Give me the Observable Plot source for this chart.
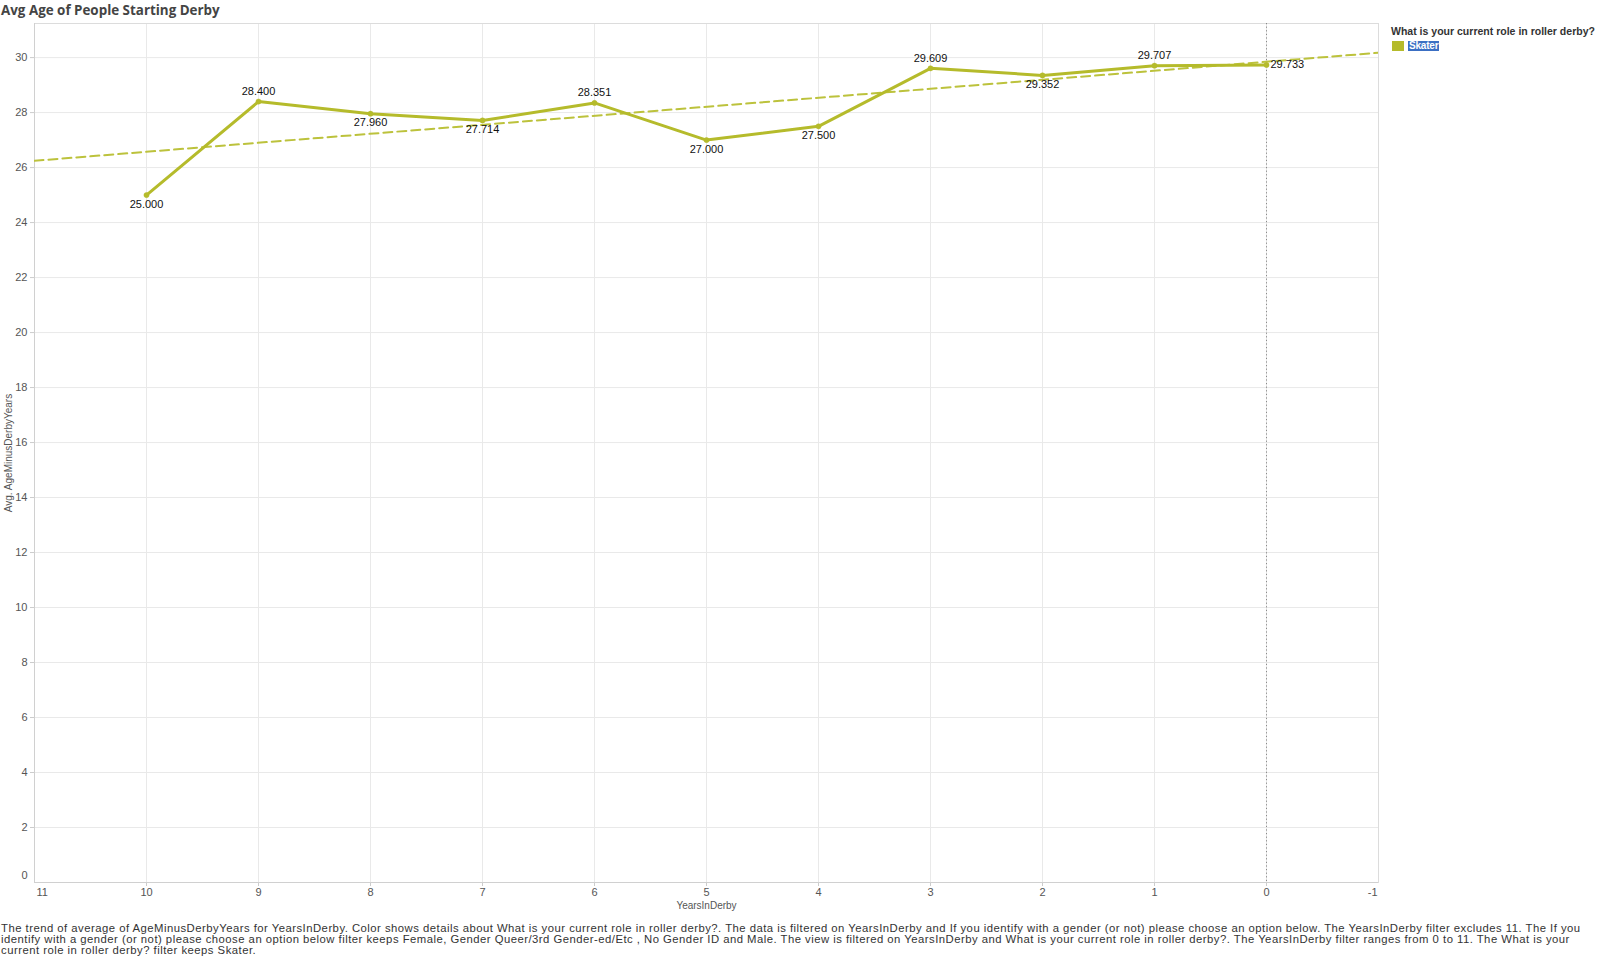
<!DOCTYPE html>
<html>
<head>
<meta charset="utf-8">
<script src="https://cdn.jsdelivr.net/npm/d3@7"></script>
<script src="https://cdn.jsdelivr.net/npm/@observablehq/plot@0.6"></script>
<style>
  html, body { margin: 0; padding: 0; background: #fff; width: 1600px; height: 960px; overflow: hidden; }
  body { position: relative; font-family: "Liberation Sans", Arial, sans-serif; }
  #title { position: absolute; left: 1px; top: 1px; font-family: "Open Sans", sans-serif; font-weight: 700; font-size: 13.4px; color: #444; white-space: nowrap; }
  #chart { position: absolute; left: 0; top: 18px; }
  #legend { position: absolute; left: 1391px; top: 21px; color: #333; }
  #legend .lt { font-weight: 700; white-space: nowrap; font-size: 11px; display: inline-block; }
  #legend .item { display: flex; align-items: center; margin-top: 2px; }
  #legend .sw { width: 12px; height: 10px; margin-left: 1px; margin-right: 4px; }
  #legend .lab { background: #3b6fc3; color: #fff; font-weight: 700; padding: 0 1px; line-height: 10px; font-size: 10px; letter-spacing: -0.2px; }
  #caption { position: absolute; left: 1px; top: 923px; font-size: 11.3px; line-height: 10.8px; color: #333; white-space: nowrap; }
  #caption div { display: block; height: 10.8px; }
  #caption span { display: inline-block; }
</style>
</head>
<body>
<div id="title">Avg Age of People Starting Derby</div>
<div id="chart"></div>
<div id="legend"></div>
<div id="caption"></div>
<script>
// ---- data ----
const yearsInDerby = [10, 9, 8, 7, 6, 5, 4, 3, 2, 1, 0];
const avgAge = [25.000, 28.400, 27.960, 27.714, 28.351, 27.000, 27.500, 29.609, 29.352, 29.707, 29.733];
const roles = ["Skater"];
const xTicks = [11, 10, 9, 8, 7, 6, 5, 4, 3, 2, 1, 0, -1];
const yTicks = [0, 2, 4, 6, 8, 10, 12, 14, 16, 18, 20, 22, 24, 26, 28, 30];
const referenceX = [0];
// label placement (style)
const labelSide = ["below", "above", "below", "below", "above", "below", "below", "above", "below", "above", "right"];

const titleText = "Avg Age of People Starting Derby";
const legendTitle = "What is your current role in roller derby?";
const xLabel = "YearsInDerby";
const yLabel = "Avg. AgeMinusDerbyYears";
const captionLines = [
  "The trend of average of AgeMinusDerbyYears for YearsInDerby.  Color shows details about What is your current role in roller derby?. The data is filtered on YearsInDerby and If you identify with a gender (or not) please choose an option below. The YearsInDerby filter excludes 11. The If you",
  "identify with a gender (or not) please choose an option below filter keeps Female, Gender Queer/3rd Gender-ed/Etc , No Gender ID and Male. The view is filtered on YearsInDerby and What is your current role in roller derby?. The YearsInDerby filter ranges from 0 to 11. The What is your",
  "current role in roller derby? filter keeps Skater."
];

// ---- build ----
const color = "#b5bb2b";
const trendColor = "#bcc23c";
const rows = yearsInDerby.map((x, i) => ({x, y: avgAge[i], side: labelSide[i], label: d3.format(".3f")(avgAge[i]), role: roles[0]}));

// least squares trend line across the axis range
const mx = d3.mean(rows, d => d.x), my = d3.mean(rows, d => d.y);
const slope = d3.sum(rows, d => (d.x - mx) * (d.y - my)) / d3.sum(rows, d => (d.x - mx) ** 2);
const xDomain = [xTicks[0], xTicks[xTicks.length - 1]];
const trend = xDomain.map(x => ({x, y: my + slope * (x - mx)}));

const dyFor = {above: -10, below: 9, right: 0};
const grid = "#e9e9e9";

const plot = Plot.plot({
  width: 1385,
  height: 904,
  marginLeft: 34,
  marginRight: 7,
  marginTop: 5,
  marginBottom: 40,
  style: {fontFamily: "'Liberation Sans', Arial, sans-serif", fontSize: "11px", color: "#555", background: "#fff"},
  x: {domain: xDomain},
  y: {domain: [0, 31.24]},
  marks: [
    Plot.gridY(yTicks, {stroke: grid, strokeOpacity: 1}),
    Plot.gridX(xTicks, {stroke: grid, strokeOpacity: 1}),
    Plot.frame({stroke: "#dcdcdc"}),
    Plot.ruleX(referenceX, {stroke: "#8a8a8a", strokeDasharray: "1.2,2.4", strokeWidth: 1}),
    Plot.axisY(yTicks.filter(d => d > 0), {tickSize: 4, tickPadding: 3, stroke: "#ccc", color: "#555", label: null}),
    Plot.text([yTicks[0]], {y: d => d, frameAnchor: "left", textAnchor: "end", dx: -7, dy: -7, fill: "#555"}),
    Plot.text([yLabel], {frameAnchor: "left", textAnchor: "middle", rotate: -90, dx: -26, fill: "#555", fontSize: 10}),
    Plot.axisX(xTicks.slice(1, -1), {tickSize: 4, tickPadding: 2, stroke: "#ccc", color: "#555", label: null}),
    Plot.text([xTicks[0]], {x: d => d, frameAnchor: "bottom", textAnchor: "start", lineAnchor: "top", dx: 2, dy: 6, fill: "#555"}),
    Plot.text([xTicks[xTicks.length - 1]], {x: d => d, frameAnchor: "bottom", textAnchor: "end", lineAnchor: "top", dx: -1, dy: 6, fill: "#555"}),
    Plot.text([xLabel], {frameAnchor: "bottom", lineAnchor: "top", dy: 19, fill: "#555", fontSize: 10}),
    Plot.ruleY([0], {stroke: "#d0d0d0"}),
    Plot.ruleX([xDomain[0]], {stroke: "#d0d0d0"}),
    Plot.line(trend, {x: "x", y: "y", stroke: trendColor, strokeWidth: 2, strokeDasharray: "9,5", clip: true}),
    Plot.line(rows, {x: "x", y: "y", stroke: color, strokeWidth: 3}),
    Plot.dot(rows, {x: "x", y: "y", r: 2.6, fill: color, stroke: color, strokeWidth: 0.5}),
    Plot.text(rows.filter(d => d.side === "above"), {x: "x", y: "y", text: "label", dy: dyFor.above, fill: "#111"}),
    Plot.text(rows.filter(d => d.side === "below"), {x: "x", y: "y", text: "label", dy: dyFor.below, fill: "#111"}),
    Plot.text(rows.filter(d => d.side === "right"), {x: "x", y: "y", text: "label", dx: 4, textAnchor: "start", fill: "#111"})
  ]
});
document.getElementById("chart").appendChild(plot);

document.getElementById("title").textContent = titleText;
const legend = document.getElementById("legend");
legend.innerHTML = `<div><span class="lt"></span></div>` + roles.map(r => `<div class="item"><div class="sw" style="background:${color}"></div><span class="lab"></span></div>`).join("");
const lt = legend.querySelector(".lt");
lt.textContent = legendTitle;
legend.querySelectorAll(".lab").forEach((el, i) => el.textContent = roles[i]);

// fit a text element's font size to a target width
function fit(el, target) {
  const fs = parseFloat(getComputedStyle(el).fontSize);
  const w = el.getBoundingClientRect().width;
  if (w > 0) el.style.fontSize = (fs * target / w).toFixed(2) + "px";
}
fit(lt, 204);

const cap = document.getElementById("caption");
const spans = captionLines.map(line => {
  const div = document.createElement("div");
  const span = document.createElement("span");
  span.textContent = line;
  div.appendChild(span);
  cap.appendChild(div);
  return span;
});
// widen caption letter spacing so its first line spans the width it has in the reference
{
  const w = spans[0].getBoundingClientRect().width;
  const ls = (1580 - w) / captionLines[0].length;
  cap.style.letterSpacing = ls.toFixed(3) + "px";
}
</script>
</body>
</html>
